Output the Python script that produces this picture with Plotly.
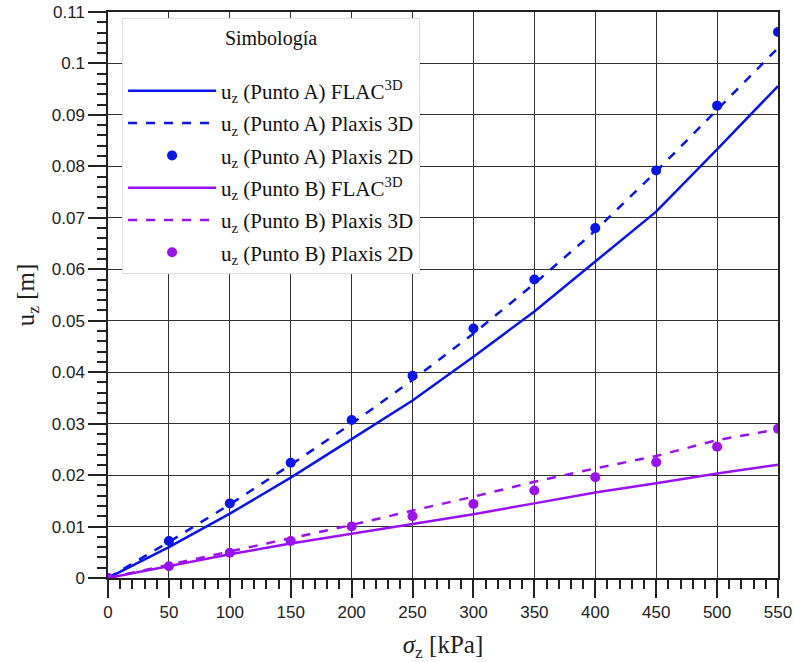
import plotly.graph_objects as go

sigma = [0, 50, 100, 150, 200, 250, 300, 350, 400, 450, 500, 550]

uA_flac = [0, 0.0060, 0.0125, 0.0195, 0.0270, 0.0345, 0.0430, 0.0518, 0.0615, 0.0712, 0.0833, 0.0956]
uA_p3d = [0, 0.0070, 0.0143, 0.0220, 0.0300, 0.0385, 0.0475, 0.0572, 0.0675, 0.0790, 0.0910, 0.1030]
uA_p2d = [0, 0.0072, 0.0145, 0.0224, 0.0307, 0.0393, 0.0485, 0.0580, 0.0680, 0.0792, 0.0918, 0.1061]

uB_flac = [0, 0.0023, 0.0046, 0.0067, 0.0086, 0.0105, 0.0124, 0.0145, 0.0166, 0.0184, 0.0203, 0.0220]
uB_p3d = [0, 0.0026, 0.0051, 0.0077, 0.0103, 0.0131, 0.0158, 0.0187, 0.0213, 0.0237, 0.0268, 0.0289]
uB_p2d = [0, 0.0023, 0.0049, 0.0072, 0.0100, 0.0120, 0.0144, 0.0170, 0.0196, 0.0225, 0.0255, 0.0290]

x_ticks = [0, 50, 100, 150, 200, 250, 300, 350, 400, 450, 500, 550]
y_ticks = [0, 0.01, 0.02, 0.03, 0.04, 0.05, 0.06, 0.07, 0.08, 0.09, 0.1, 0.11]
y_tick_text = ["0", "0.01", "0.02", "0.03", "0.04", "0.05", "0.06", "0.07", "0.08", "0.09", "0.1", "0.11"]

BLUE = "#0A14F0"
PURPLE = "#9B12F2"
serif = "Liberation Serif"

fig = go.Figure()
fig.add_trace(go.Scatter(x=sigma, y=uA_flac, mode="lines", line=dict(color=BLUE, width=2.5),
                         name="u<sub>z</sub> (Punto A) FLAC<sup>3D</sup>", legendgroup="a1"))
fig.add_trace(go.Scatter(x=sigma, y=uA_p3d, mode="lines", line=dict(color=BLUE, width=2.5, dash="dash"),
                         name="u<sub>z</sub> (Punto A) Plaxis 3D", legendgroup="a2"))
fig.add_trace(go.Scatter(x=sigma, y=uA_p2d, mode="markers", marker=dict(color=BLUE, size=10),
                         name="u<sub>z</sub> (Punto A) Plaxis 2D", legendgroup="a3"))
fig.add_trace(go.Scatter(x=sigma, y=uB_flac, mode="lines", line=dict(color=PURPLE, width=2.5),
                         name="u<sub>z</sub> (Punto B) FLAC<sup>3D</sup>", legendgroup="b1"))
fig.add_trace(go.Scatter(x=sigma, y=uB_p3d, mode="lines", line=dict(color=PURPLE, width=2.5, dash="dash"),
                         name="u<sub>z</sub> (Punto B) Plaxis 3D", legendgroup="b2"))
fig.add_trace(go.Scatter(x=sigma, y=uB_p2d, mode="markers", marker=dict(color=PURPLE, size=10),
                         name="u<sub>z</sub> (Punto B) Plaxis 2D", legendgroup="b3"))

axis_common = dict(
    showgrid=True, gridcolor="#333333", gridwidth=1.2,
    showline=True, linecolor="#222222", linewidth=1.5, mirror=True,
    ticks="outside", ticklen=18, tickwidth=1.5, tickcolor="#222222",
    tickfont=dict(family="Liberation Sans", size=17, color="#222222"),
    zeroline=False, automargin=False,
)

fig.update_layout(
    width=794, height=662,
    paper_bgcolor="white", plot_bgcolor="white",
    margin=dict(l=108, r=16, t=12, b=84, autoexpand=False),
    xaxis=dict(range=[0, 550], tickvals=x_ticks,
               minor=dict(dtick=10, ticks="outside", ticklen=9, tickwidth=1.5, tickcolor="#222222", showgrid=False),
               title=dict(text="<i>σ</i><sub>z</sub> [kPa]", font=dict(family=serif, size=25, color="#222222"), standoff=14),
               **axis_common),
    yaxis=dict(range=[0, 0.11], tickvals=y_ticks, ticktext=y_tick_text,
               minor=dict(dtick=0.002, ticks="outside", ticklen=9, tickwidth=1.5, tickcolor="#222222", showgrid=False),
               title=dict(text="u<sub>z</sub> [m]", font=dict(family=serif, size=25, color="#222222"), standoff=10),
               **axis_common),
    legend=dict(
        x=0.021, y=0.99, xanchor="left", yanchor="top",
        bgcolor="white", bordercolor="#dddddd", borderwidth=1,
        font=dict(family=serif, size=21, color="#111111"),
        title=dict(text="Simbología<br> ", side="top center", font=dict(family=serif, size=20, color="#111111")),
        traceorder="grouped", tracegroupgap=2, itemwidth=88,
    ),
    showlegend=True,
)

fig.write_html("out.html", config={"displayModeBar": False},
               post_script="document.body.style.margin='0';document.body.style.padding='0';")
